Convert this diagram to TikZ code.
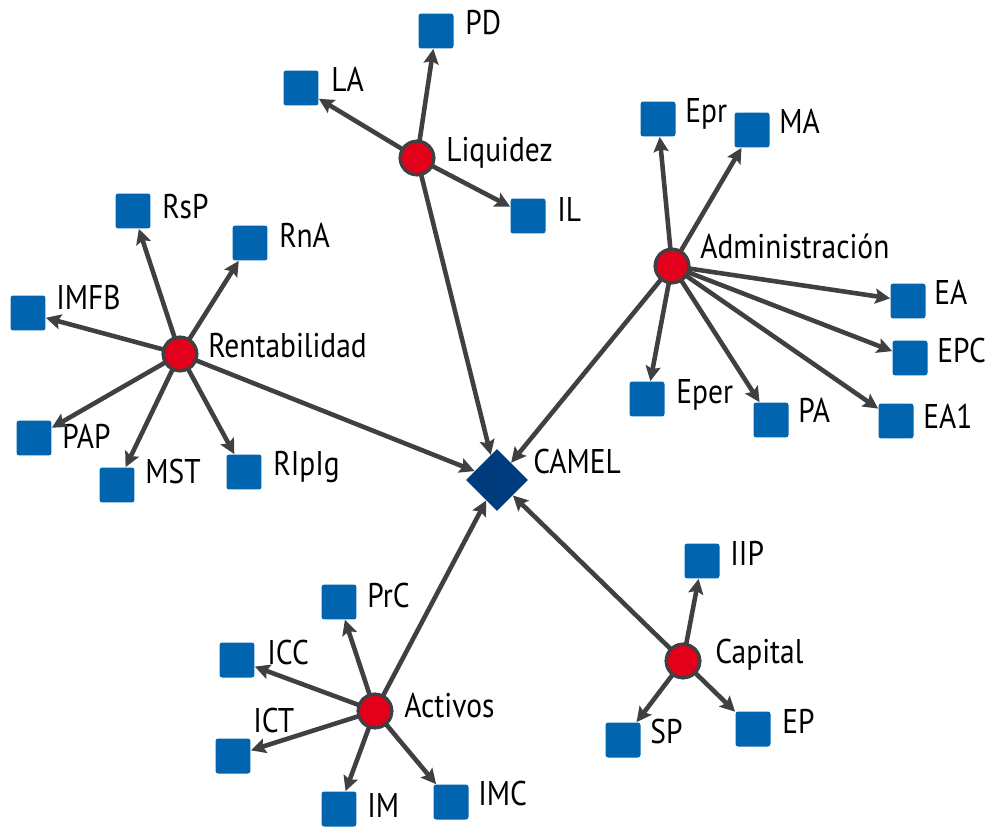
\documentclass[tikz,border=0pt]{standalone}
\usepackage{fontspec}
\setmainfont[FakeStretch=0.86]{PT Sans}
\usepackage{xcolor}
\usetikzlibrary{arrows.meta,shapes.geometric}
\definecolor{linegray}{RGB}{64,64,66}
\definecolor{camelred}{RGB}{227,0,27}
\definecolor{indblue}{RGB}{0,100,175}
\definecolor{camelnavy}{RGB}{0,59,126}

\begin{document}
\begin{tikzpicture}[
  x=0.02cm, y=-0.02cm,
  >={Stealth[length=8.5pt,width=8.5pt,inset=1.5pt]},
  font=\fontsize{19.5}{21}\selectfont,
  msg/.style={->, line width=2.6pt, draw=linegray, shorten <=-1pt},
  ind/.style={draw=none, fill=indblue, rounded corners=1.5pt, minimum size=0.7cm,
              inner sep=0pt},
  grp/.style={circle, draw=linegray, line width=1.8pt, fill=camelred,
              minimum size=0.67cm, inner sep=0pt},
  lbl/.style={anchor=base west, inner sep=0pt}
]
  \useasboundingbox (0,0) rectangle (988,828);
  % centre
  \node[diamond, fill=camelnavy, minimum size=1.24cm, inner sep=0pt] (camel) at (497,480) {};
  \node[lbl] (tcamel) at (533,473) {CAMEL};
  % groups
  \node[grp] (liq) at (417,158) {};
  \node[lbl] (tliq) at (446,162) {Liquidez};
  \node[grp] (adm) at (672,266) {};
  \node[lbl] (tadm) at (700,258) {Administración};
  \node[grp] (ren) at (180,354) {};
  \node[lbl] (tren) at (208,357) {Rentabilidad};
  \node[grp] (act) at (375,711) {};
  \node[lbl] (tact) at (404,717) {Activos};
  \node[grp] (cap) at (683,661) {};
  \node[lbl] (tcap) at (715,663) {Capital};
  % indicators
  \foreach \n/\x/\y/\lx/\ly in {PD/436/31/465/25, LA/301/88/331/82, IL/528/216/557/211,
      Epr/658/119/685/113, MA/752/130/779/123, EA/908/301/934/294, EPC/910/358/937/352,
      Eper/647/399/676/393, PA/771/420/798/412, EA1/896/421/923/418,
      RsP/133/211/162/208, RnA/250/243/279/238, IMFB/28/313/56/299, PAP/34/438/62/438,
      MST/117/485/145/473, RIpIg/244/472/273/465,
      PrC/339/602/367/597, ICC/237/660/267/654, ICT/233/756/253/722, IM/339/809/367/807,
      IMC/451/802/478/795,
      IIP/702/561/730/555, SP/623/740/650/733, EP/753/729/782/723}
  {
    \node[ind] (\n) at (\x,\y) {};
    \node[lbl] (t\n) at (\lx,\ly+10) {\n};
  }
  % connectors
  \foreach \a/\b in {liq/PD, liq/LA, liq/IL,
      adm/Epr, adm/MA, adm/EA, adm/EPC, adm/Eper, adm/PA, adm/EA1,
      ren/RsP, ren/RnA, ren/IMFB, ren/PAP, ren/MST, ren/RIpIg,
      act/PrC, act/ICC, act/ICT, act/IM, act/IMC,
      cap/IIP, cap/SP, cap/EP,
      liq/camel, adm/camel, ren/camel, act/camel, cap/camel}
    \draw[msg] (\a) -- (\b);
  % circles above their lines
  \foreach \g in {liq,adm,ren,act,cap}
    \node[grp] (\g top) at (\g) {};
\end{tikzpicture}
\end{document}
